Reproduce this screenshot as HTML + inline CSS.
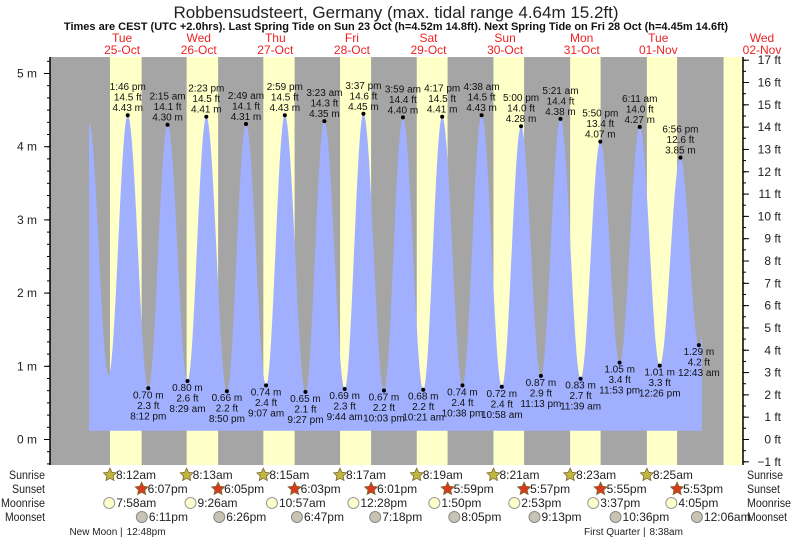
<!DOCTYPE html>
<html><head><meta charset="utf-8"><style>
body{margin:0;background:#fff}
svg{display:block;font-family:"Liberation Sans",sans-serif}
</style></head><body>
<svg id="c" width="793" height="539" viewBox="0 0 793 539" xmlns="http://www.w3.org/2000/svg">
<text x="396" y="18" text-anchor="middle" font-size="17" fill="#222">Robbensudsteert, Germany (max. tidal range 4.64m 15.2ft)</text>
<text x="396" y="30" text-anchor="middle" font-size="11" font-weight="bold" fill="#111">Times are CEST (UTC +2.0hrs). Last Spring Tide on Sun 23 Oct (h=4.52m 14.8ft). Next Spring Tide on Fri 28 Oct (h=4.45m 14.6ft)</text>
<g id="bg"></g><g id="water"></g><g id="marks"></g><g id="axes"></g><g id="bottom"></g>
</svg>
<script>
// ---- data ----
const dayNames = ["Tue","Wed","Thu","Fri","Sat","Sun","Mon","Tue","Wed"];
const dayDates = ["25-Oct","26-Oct","27-Oct","28-Oct","29-Oct","30-Oct","31-Oct","01-Nov","02-Nov"];
const sunrise = ["8:12","8:13","8:15","8:17","8:19","8:21","8:23","8:25","8:27"];
const sunset = ["18:07","18:05","18:03","18:01","17:59","17:57","17:55","17:53"];
const moonriseDay = [0,1,2,3,4,5,6,7];
const moonrise = ["7:58","9:26","10:57","12:28","13:50","14:53","15:37","16:05"];
const moonsetDay = [0,1,2,3,4,5,6,8];
const moonset = ["18:11","18:26","18:47","19:18","20:05","21:13","22:36","0:06"];
const tideDay = [0,0,0,0,1,1,1,1,2,2,2,2,3,3,3,3,4,4,4,4,5,5,5,5,6,6,6,6,7,7,7,8,8];
const tideTime = ["1:40","7:45","13:46","20:12","2:15","8:29","14:23","20:50","2:49","9:07","14:59","21:27","3:23","9:44","15:37","22:03","3:59","10:21","16:17","22:38","4:38","10:58","17:00","23:13","5:21","11:39","17:50","23:53","6:11","12:26","18:56","0:43","7:10"];
const tideHeight = [4.32,0.88,4.43,0.70,4.30,0.80,4.41,0.66,4.31,0.74,4.43,0.65,4.35,0.69,4.45,0.67,4.40,0.68,4.41,0.74,4.43,0.72,4.28,0.87,4.38,0.83,4.07,1.05,4.27,1.01,3.85,1.29,3.90];
const tideLabeled = tideHeight.map((h,i)=> i>=2 && i<=31);
const mTicks = [0,1,2,3,4,5];
const ftTicks = [-1,0,1,2,3,4,5,6,7,8,9,10,11,12,13,14,15,16,17];
const phaseLabels = [["New Moon","12:48pm",0,"12:48"],["First Quarter","8:38am",7,"8:38"]];

// ---- scales ----
const X0=83.8, PXD=76.6, Y0=439.5, PXM=73.2;
const PL=50, PR=743, PT=57, PB=465;
function hm(s){const [h,m]=s.split(":").map(Number);return h+m/60;}
function xs(day,t){return X0+day*PXD+hm(t)*PXD/24;}
function ys(m){return Y0-m*PXM;}
function el(tag,attrs,parent,text){const e=document.createElementNS("http://www.w3.org/2000/svg",tag);for(const k in attrs)e.setAttribute(k,attrs[k]);if(text!==undefined)e.textContent=text;parent.appendChild(e);return e;}
function fmt(t){let [h,m]=t.split(":").map(Number);const ap=h>=12?"pm":"am";h=h%12;if(h===0)h=12;return h+":"+String(m).padStart(2,"0")+" "+ap;}
function fmt2(t){return fmt(t).replace(" ","");}

const bg=document.getElementById("bg"), water=document.getElementById("water"), marks=document.getElementById("marks"), axes=document.getElementById("axes"), bottom=document.getElementById("bottom");

// background
let r=el("rect",{x:PL,y:PT,width:PR-PL,height:PB-PT,fill:"#a5a5a5"},bg);


for(let d=0;d<sunrise.length;d++){
  const x1=xs(d,sunrise[d]);
  const x2=d<sunset.length?xs(d,sunset[d]):PR;
  const rr=el("rect",{x:x1,y:PT,width:Math.min(x2,PR)-x1,height:PB-PT,fill:"#ffffc8"},bg);
  
  
}
// day labels
for(let d=0;d<dayNames.length;d++){
  let cx=X0+d*PXD+PXD/2; if(d===8) cx=762;
  const t1=el("text",{x:cx,y:42,"text-anchor":"middle","font-size":12,fill:"#ee2222"},axes,dayNames[d]);
  
  
  const t2=el("text",{x:cx,y:54,"text-anchor":"middle","font-size":12,fill:"#ee2222"},axes,dayDates[d]);
  
  
}

// tide curve
const tx=tideTime.map((t,i)=>xs(tideDay[i],t));
const startX=89, endX=702, base=ys(0.12);
let pts=[[startX,base]];
for(let x=startX;x<=endX;x+=0.5){
  let i=0; while(i<tx.length-2 && tx[i+1]<x) i++;
  const f=Math.max(0,Math.min(1,(x-tx[i])/(tx[i+1]-tx[i])));
  const h=tideHeight[i]+(tideHeight[i+1]-tideHeight[i])*(1-Math.cos(Math.PI*f))/2;
  pts.push([x,ys(h)]);
}
pts.push([endX,base]);
const poly=el("polygon",{points:pts.map(p=>p[0].toFixed(1)+","+p[1].toFixed(1)).join(" "),fill:"#a0b0ff"},water);



// extreme markers
for(let i=0;i<tideHeight.length;i++){
  if(!tideLabeled[i]) continue;
  const x=tx[i], y=ys(tideHeight[i]);
  const high = i%2===0;
  const c=el("circle",{cx:x,cy:y,r:2,fill:"#000"},marks);
  
  
  const ft=(tideHeight[i]*3.2808).toFixed(1);
  const lines = high ? [fmt(tideTime[i]),ft+" ft",tideHeight[i].toFixed(2)+" m"] : [tideHeight[i].toFixed(2)+" m",ft+" ft",fmt(tideTime[i])];
  const y0 = high ? y-25 : y+10;
  lines.forEach((s,k)=>{
    const t=el("text",{x:x,y:y0+k*10.5,"text-anchor":"middle","font-size":10,fill:"#111"},marks,s);
    
    
  });
}

// axes
el("line",{x1:PL,y1:PT,x2:PL,y2:PB,stroke:"#000","stroke-width":1.5},axes);
el("line",{x1:PR,y1:PT,x2:PR,y2:PB,stroke:"#000","stroke-width":1.5},axes);
for(let k=-2;k<=31;k++){const y=ys(k/6);if(y<PT||y>PB)continue;el("line",{x1:PL-3,y1:y,x2:PL,y2:y,stroke:"#000"},axes);}
mTicks.forEach(m=>{
  const y=ys(m);
  el("line",{x1:PL-6,y1:y,x2:PL,y2:y,stroke:"#000"},axes);
  const t=el("text",{x:37,y:y+4,"text-anchor":"end","font-size":12,fill:"#222"},axes,m+" m");
  
  
});
for(let k=-2;k<=35;k++){const y=ys(k/2/3.2808);if(y<PT||y>PB)continue;el("line",{x1:PR,y1:y,x2:PR+3,y2:y,stroke:"#000"},axes);}
ftTicks.forEach(f=>{
  const y=ys(f/3.2808);
  el("line",{x1:PR,y1:y,x2:PR+6,y2:y,stroke:"#000"},axes);
  const t=el("text",{x:781,y:y+4,"text-anchor":"end","font-size":12,fill:"#222"},axes,(f<0?"\u22121":f)+" ft");
  
  
});

// bottom rows
const rowY={sr:479,ss:493,mr:507,ms:521,ph:535};
[["Sunrise",rowY.sr,36],["Sunset",rowY.ss,33],["Moonrise",rowY.mr,44],["Moonset",rowY.ms,40]].forEach(([s,y,w])=>{
  const a=el("text",{x:45-w,y:y,"font-size":11.5,fill:"#222",textLength:w,lengthAdjust:"spacingAndGlyphs"},bottom,s);
  
  
  const b=el("text",{x:747,y:y,"font-size":11.5,fill:"#222",textLength:w,lengthAdjust:"spacingAndGlyphs"},bottom,s);
  
  
});
function star(cx,cy,fill,name){
  let p=[];for(let k=0;k<10;k++){const a=-Math.PI/2+k*Math.PI/5;const rr=k%2?3.3:6.8;p.push((cx+rr*Math.cos(a)).toFixed(1)+","+(cy+rr*Math.sin(a)).toFixed(1));}
  const s=el("polygon",{points:p.join(" "),fill:fill,stroke:"#7a6a30","stroke-width":0.8},bottom);
  
  
}
function icontext(x,y,s,name){const t=el("text",{x:x+6,y:y,"font-size":12,fill:"#222"},bottom,s);}
for(let d=0;d<8;d++){
  const x=xs(d,sunrise[d]); star(x,rowY.sr-4,"#c2b642","sunrise-icon"); icontext(x,rowY.sr,fmt2(sunrise[d]),"sunrise-time");
  const x2=xs(d,sunset[d]); star(x2,rowY.ss-4,"#d83a1e","sunset-icon"); icontext(x2,rowY.ss,fmt2(sunset[d]),"sunset-time");
}
moonrise.forEach((t,i)=>{
  const x=xs(moonriseDay[i],t);
  const c=el("circle",{cx:x,cy:rowY.mr-4,r:5.5,fill:"#ffffcc",stroke:"#999"},bottom);
  
  
  icontext(x+1,rowY.mr,fmt2(t),"moonrise-time");
});
moonset.forEach((t,i)=>{
  const x=xs(moonsetDay[i],t);
  const c=el("circle",{cx:x,cy:rowY.ms-4,r:5.5,fill:"#c8c4b4",stroke:"#888"},bottom);
  
  
  icontext(x+1,rowY.ms,fmt2(t),"moonset-time");
});
phaseLabels.forEach(([n,tt,d,t])=>{
  const x=xs(d,t);
  const a=el("text",{x:x-2,y:rowY.ph,"text-anchor":"end","font-size":10,fill:"#222"},bottom,n+" |");
  
  
  const b=el("text",{x:x+2,y:rowY.ph,"font-size":10,fill:"#222"},bottom,tt);
  
  
});
</script>
</body></html>
